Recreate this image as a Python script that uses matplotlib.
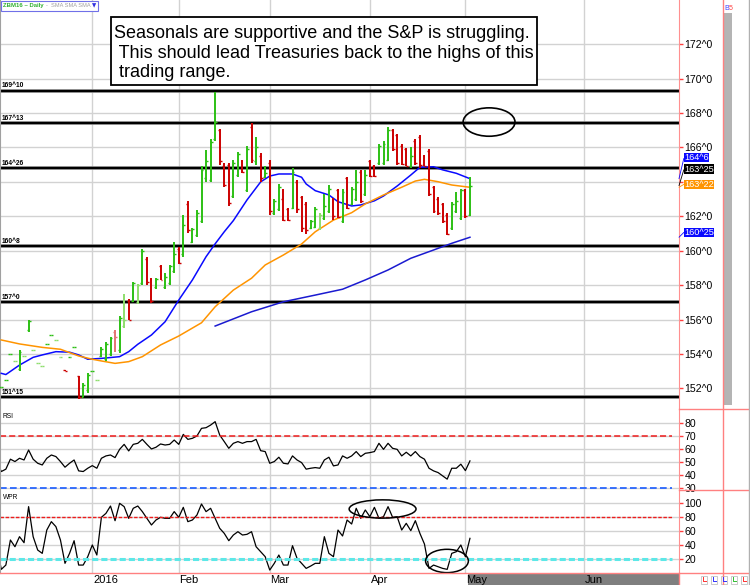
import numpy as np
import matplotlib
matplotlib.use("Agg")
import matplotlib.pyplot as plt
from matplotlib.patches import Ellipse, Rectangle
from matplotlib.lines import Line2D
from matplotlib.ticker import FuncFormatter

plt.rcParams['font.family'] = ['Liberation Sans', 'DejaVu Sans']

# ZBM16 daily bars, index 0 = early Dec 2015, last bar = May 3 2016
high = [152.1, 152.5, 154.0, 153.6, 154.2, 153.9, 156.0, 154.2, 153.5, 153.3,
        154.6, 155.1, 154.8, 153.8, 153.05, 153.8, 154.4, 152.7, 152.3, 152.9,
        153.0, 152.5, 154.4, 154.7, 155.0, 155.4, 156.2, 157.5, 157.2, 158.2,
        158.06, 160.1, 159.65, 158.4, 158.4, 159.17, 158.7, 159.17, 160.5, 160.2,
        162.08, 162.9, 161.3, 162.36, 164.9, 165.86, 166.5, 169.2, 167.1, 165.1,
        165.1, 165.3, 165.76, 165.3, 166.1, 167.4, 166.6, 165.66, 164.9, 165.3,
        163.0, 163.9, 163.6, 162.5, 164.8, 164.1, 163.2, 162.85, 161.8, 162.56,
        162.2, 163.3, 163.8, 163.05, 163.6, 163.6, 164.3, 163.7, 164.7, 164.7,
        164.7, 165.3, 165.0, 166.2, 166.4, 167.2, 167.1, 166.8, 166.2, 165.95,
        166.05, 166.5, 166.7, 165.56, 165.9, 163.76, 163.1, 162.8, 162.2, 162.85,
        163.4, 163.6, 163.6, 164.3]
low = [152.1, 152.5, 154.0, 153.6, 153.0, 153.9, 155.3, 154.2, 153.5, 153.3,
       154.6, 155.1, 154.8, 153.8, 153.0, 153.8, 154.4, 151.4, 151.5, 151.7,
       153.0, 152.5, 153.8, 153.6, 153.9, 154.1, 154.05, 155.5, 156.0, 157.0,
       156.9, 158.0, 158.0, 156.96, 157.8, 158.3, 157.8, 158.0, 158.7, 159.2,
       159.65, 161.05, 160.45, 160.8, 161.6, 164.0, 164.0, 166.4, 165.0, 163.7,
       162.6, 163.06, 164.3, 164.5, 163.4, 165.1, 165.0, 164.0, 164.2, 162.1,
       162.1, 162.3, 161.7, 161.7, 162.4, 162.2, 161.1, 161.0, 161.25, 161.3,
       161.2, 161.8, 162.2, 161.8, 161.9, 161.6, 162.4, 162.65, 162.9, 162.75,
       163.2, 164.3, 164.3, 165.0, 165.0, 165.2, 165.8, 165.0, 165.0, 164.9,
       164.8, 165.0, 164.8, 164.9, 163.2, 162.2, 162.1, 161.6, 160.9, 161.2,
       162.2, 161.8, 161.9, 162.0]
opn = [152.1, 152.5, 154.0, 153.6, 153.1, 153.9, 155.4, 154.2, 153.5, 153.3,
       154.6, 155.1, 154.8, 153.8, 153.05, 153.8, 154.4, 152.7, 151.5, 151.9,
       153.0, 152.5, 153.9, 153.7, 154.0, 155.3, 154.2, 155.6, 157.1, 157.1,
       157.0, 158.1, 159.5, 158.3, 157.9, 159.1, 157.9, 158.1, 158.8, 160.1,
       159.8, 162.7, 160.5, 160.9, 161.7, 164.2, 164.1, 166.5, 167.0, 164.9,
       165.0, 163.2, 164.4, 165.2, 163.5, 167.2, 165.2, 165.5, 164.3, 165.1,
       162.2, 162.4, 163.0, 162.4, 162.5, 164.0, 163.1, 162.7, 161.3, 161.4,
       161.3, 161.9, 162.3, 163.0, 163.5, 161.7, 164.2, 162.7, 163.0, 164.6,
       163.3, 165.2, 164.9, 165.1, 165.1, 165.3, 167.0, 166.7, 166.1, 165.9,
       164.9, 166.4, 166.6, 165.5, 165.8, 163.7, 163.0, 162.7, 162.1, 161.3,
       162.3, 161.9, 163.5, 162.1]
close = [152.1, 152.5, 154.0, 153.6, 154.1, 153.9, 155.9, 154.2, 153.5, 153.3,
         154.6, 155.1, 154.8, 153.8, 153.0, 153.8, 154.4, 151.5, 152.2, 152.8,
         153.0, 152.5, 154.3, 154.6, 154.9, 155.0, 156.1, 156.0, 156.0, 158.1,
         158.0, 160.0, 158.2, 157.1, 158.35, 158.32, 158.5, 159.1, 159.8, 159.3,
         161.5, 161.2, 161.25, 162.2, 164.7, 165.2, 166.3, 167.5, 165.2, 163.8,
         162.8, 165.1, 165.6, 164.6, 165.9, 165.3, 166.0, 164.2, 164.5, 162.3,
         162.9, 163.7, 161.8, 161.8, 164.6, 162.4, 161.3, 161.2, 161.7, 162.4,
         162.1, 162.6, 163.6, 162.0, 161.95, 163.4, 162.5, 163.6, 164.0, 162.9,
         164.4, 164.35, 164.35, 166.1, 166.2, 167.0, 165.9, 165.1, 165.05, 164.95,
         165.5, 165.1, 165.0, 164.95, 163.3, 162.3, 162.2, 161.7, 161.0, 162.7,
         162.9, 163.5, 162.0, 163 + 25 / 32]

# moving averages at a few bars each
fast_bar = [0, 1, 4, 7, 9, 12, 15, 17, 19, 22, 26, 28, 30, 33, 36, 39, 42, 45, 47, 49,
            51, 54, 57, 59, 61, 64, 66, 67, 69, 72, 74, 77, 79, 82, 84, 87, 90, 92, 95, 97,
            100, 103]
fast_sma = [152.87, 152.8, 153.35, 153.8, 153.94, 154.13, 154.1, 153.94, 153.69, 153.74,
            153.84, 154.13, 154.56, 155.1, 155.87, 157.13, 158.3, 159.65, 160.4, 161.1,
            161.75, 162.95, 164.0, 164.34, 164.46, 164.46, 164.27, 163.88, 163.49, 163.24,
            162.85, 162.6, 162.66, 162.9, 163.18, 163.76, 164.4, 164.85, 164.88, 164.7,
            164.5, 164 + 6 / 32]
mid_bar = [0, 4, 9, 13, 17, 20, 22, 25, 28, 31, 35, 39, 44, 47, 51, 55, 58, 62, 66, 69,
           73, 77, 80, 84, 88, 91, 93, 96, 99, 103]
mid_sma = [154.81, 154.58, 154.38, 154.27, 153.88, 153.69, 153.59, 153.45, 153.55, 153.84,
           154.52, 155.04, 155.81, 156.74, 157.71, 158.4, 159.17, 159.75, 160.39, 161.1,
           161.78, 162.21, 162.72, 163.24, 163.69, 164.05, 164.15, 164.01, 163.82, 163 + 22 / 32]
slow_bar = [47, 55, 62, 69, 75, 80, 85, 90, 95, 99, 103]
slow_sma = [155.62, 156.45, 157.03, 157.42, 157.76, 158.3, 158.88, 159.56, 160.04, 160.43,
            160 + 25 / 32]

# indicators, bar -1 .. 103
rsi = [50.4, 42.8, 44.6, 52.2, 50.4, 52.9, 51.6, 59.2, 52.2, 49.1, 47.8,
       52.9, 55.4, 54.2, 50.4, 46.1, 49.1, 51.6, 43.3, 42.8, 45.3,
       47.3, 45.3, 52.9, 54.7, 55.4, 53.4, 59.7, 63.5, 58.5, 63.5,
       64.3, 67.3, 63.5, 60.0, 61.3, 63.8, 63.0, 63.5, 66.8, 63.5,
       71.1, 67.3, 68.1, 69.9, 75.7, 76.2, 78.2, 80.8, 70.6, 65.6,
       60.5, 64.3, 65.6, 64.3, 65.6, 65.6, 67.3, 58.7, 58.0, 49.1,
       50.4, 53.7, 49.1, 48.6, 54.7, 51.6, 49.6, 44.6, 45.3, 45.8,
       45.3, 51.6, 53.7, 47.1, 47.8, 54.7, 52.9, 54.7, 58.0, 54.2,
       56.7, 57.2, 58.0, 64.3, 59.7, 64.3, 60.5, 59.7, 54.7, 57.5,
       54.7, 58.0, 54.2, 52.2, 45.3, 43.3, 42.0, 39.5, 37.0, 45.3,
       45.3, 48.4, 43.5, 50.9]
wpr = [37.3, 4.6, 10.8, 47.0, 37.3, 51.8, 43.1, 95.2, 51.8, 32.5, 27.7,
       61.4, 73.5, 66.3, 47.0, 13.3, 27.7, 46.0, 10.8, 10.8, 22.9,
       39.8, 25.3, 79.8, 85.5, 96.1, 74.9, 100.0, 95.2, 78.3, 92.8,
       96.1, 88.0, 78.3, 68.7, 75.9, 79.8, 78.3, 78.3, 88.0, 79.8,
       94.2, 73.5, 75.9, 83.1, 99.0, 88.0, 92.8, 78.3, 63.9, 56.6,
       46.0, 54.2, 59.0, 54.2, 55.2, 59.0, 37.3, 30.1, 22.9, 3.6,
       13.3, 25.3, 10.8, 10.8, 38.8, 20.5, 13.3, 6.0, 9.4, 13.3,
       13.3, 51.8, 27.7, 22.9, 61.4, 52.8, 75.9, 70.1, 92.8, 78.3,
       90.4, 80.7, 94.2, 78.3, 80.7, 95.2, 79.8, 80.7, 61.4, 71.1,
       60.5, 74.9, 56.6, 41.2, 6.0, 10.8, 8.4, 6.0, 4.6, 27.7,
       30.1, 39.8, 22.9, 49.4]

levels = [169 + 10 / 32, 167 + 13 / 32, 164 + 26 / 32, 160 + 8 / 32, 157.0, 151 + 15 / 32]
month_names = ['2016', 'Feb', 'Mar', 'Apr', 'May', 'Jun']
month_bar = [20, 39, 59, 81, 102, 128]
note = ("Seasonals are supportive and the S&P is struggling.\n"
        " This should lead Treasuries back to the highs of this\n"
        " trading range.")


def in32(v):
    whole = int(np.floor(v + 1e-9))
    return f"{whole}^{int(round((v - whole) * 32))}"


W, H = 750, 585
fig = plt.figure(figsize=(W / 100, H / 100), dpi=100)
fig.patch.set_facecolor('white')


def px_axes(x0, y0, x1, y1, **kw):
    return fig.add_axes([x0 / W, 1 - y1 / H, (x1 - x0) / W, (y1 - y0) / H], **kw)


def fig_line(xs, ys, **kw):
    fig.add_artist(Line2D([x / W for x in xs], [1 - y / H for y in ys],
                          transform=fig.transFigure, **kw))


ax = px_axes(0, 0, 679, 409)
ax_rsi = px_axes(0, 409, 679, 490.3, sharex=ax)
ax_wpr = px_axes(0, 490.3, 679, 573.3, sharex=ax)
ax_d = px_axes(0, 573.3, 679, 585, sharex=ax)

ax.set_xlim(-1.3 / 4.55, 677.7 / 4.55)
ax.set_ylim(150.797, 174.575)
ax_rsi.set_ylim(28.5, 90.44)
ax_wpr.set_ylim(-1.1, 118.8)
ax_d.set_ylim(0, 1)

grid_kw = dict(color='#d2d2d2', lw=1.0)
for a, ticks in [(ax, np.arange(152, 173, 2)), (ax_rsi, [30, 40, 50, 60, 70, 80]),
                 (ax_wpr, [20, 40, 60, 80, 100])]:
    a.set_yticks(ticks)
    a.set_xticks(month_bar)
    a.grid(True, **grid_kw)
    a.set_axisbelow(True)
    a.yaxis.tick_right()
    a.tick_params(axis='y', direction='out', length=3, width=1, color='#ff4040',
                  labelsize=7.6, pad=1, labelcolor='black')
    a.tick_params(axis='x', length=0, labelbottom=False)
    for s in ['top', 'bottom']:
        a.spines[s].set_visible(False)
    a.spines['left'].set_color('#a0a0a0')
    a.spines['right'].set_color('#ff9090')


# the last-price tags cover the tick label nearest the last close
def price_label(v, p):
    return '' if abs(v - close[-1]) < 0.6 else f"{v:.0f}^0"


ax.yaxis.set_major_formatter(FuncFormatter(price_label))

# price bars
n = len(close)
idx = np.arange(n)
o, h, l, c = map(np.array, (opn, high, low, close))
prev = np.r_[c[0], c[:-1]]
up = c >= o
pale = (up & (c < prev)) | (~up & (c > prev))
cols = np.where(up, np.where(pale, '#8ede6c', '#2cc014'), np.where(pale, '#e27474', '#cc0000'))
ax.vlines(idx, l, h, colors=cols, lw=1.4, zorder=4)
ax.hlines(o, idx - 0.42, idx, colors=cols, lw=1.0, zorder=4)
ax.hlines(c, idx, idx + 0.42, colors=cols, lw=1.0, zorder=4)

ax.plot(fast_bar, fast_sma, color='#0a0aff', lw=1.1, zorder=3)
ax.plot(mid_bar, mid_sma, color='#ff9400', lw=1.1, zorder=3)
ax.plot(slow_bar, slow_sma, color='#1a1ad0', lw=1.1, zorder=3)

for lv in levels:
    ax.axhline(lv, color='#8c8c8c', lw=2.6, zorder=2)
    ax.axhline(lv, color='black', lw=1.6, zorder=2.1)
    ax.text(0.002, lv + 0.08, in32(lv), transform=ax.get_yaxis_transform(),
            fontsize=4.8, fontweight='bold', va='bottom', ha='left', zorder=5)

# last values on the right edge
for val, fc, dy in [(fast_sma[-1], '#0a0aff', 21), (close[-1], 'black', 16.5),
                    (mid_sma[-1], '#ff9400', 3), (slow_sma[-1], '#0a0aff', 5)]:
    ax.annotate(in32(val), xy=(1, val), xycoords=ax.get_yaxis_transform(),
                xytext=(5, dy), textcoords='offset pixels', fontsize=6.6, color='white',
                ha='left', va='center', annotation_clip=False, zorder=10,
                bbox=dict(boxstyle='square,pad=0.02', fc=fc, ec='none'),
                arrowprops=dict(arrowstyle='-', color=fc, lw=0.6, shrinkA=0, shrinkB=0,
                                relpos=(0, 0.5)))

# comment box
ax.add_patch(Rectangle((111 / 679, 1 - 85 / 409), 426 / 679, 68 / 409, transform=ax.transAxes,
                       fc='white', ec='black', lw=1.3, zorder=8))
ax.text(114 / 679, 1 - 25.5 / 409, note, transform=ax.transAxes, fontsize=13.0, va='top',
        ha='left', linespacing=1.16, zorder=9)
ax.add_patch(Ellipse((107.2, 167.48), 11.4, 1.65, fc='none', ec='black', lw=1.2, zorder=6))

# legend tag
ax.add_patch(Rectangle((0.5 / 679, 1 - 10.5 / 409), 97 / 679, 10 / 409, transform=ax.transAxes,
                       fc='white', ec='#7070e8', lw=0.8, zorder=8))
ax.text(3 / 679, 1 - 5.5 / 409, 'ZBM16 ~ Daily', transform=ax.transAxes, fontsize=4.3,
        fontweight='bold', color='#30b030', va='center', zorder=9)
ax.text(46 / 679, 1 - 5.5 / 409, '-  SMA SMA SMA', transform=ax.transAxes, fontsize=4.1,
        color='#a0a0a0', va='center', zorder=9)
ax.text(91.5 / 679, 1 - 5.5 / 409, '\u25bc', transform=ax.transAxes, fontsize=4.0,
        color='#3030e0', va='center', zorder=9, family='DejaVu Sans')

# RSI
bars_ind = np.arange(-1, n)
ax_rsi.plot(bars_ind, rsi, color='black', lw=0.9)
ax_rsi.axhline(70, xmax=0.99, color='#ee1c1c', lw=1.1, dashes=(4, 2))
ax_rsi.axhline(30, xmax=0.99, color='#1a5cff', lw=1.2, dashes=(4, 2))
ax_rsi.text(0.004, 0.95, 'RSI', transform=ax_rsi.transAxes, fontsize=4.8, va='top')

# WPR
ax_wpr.plot(bars_ind, wpr, color='black', lw=0.9)
ax_wpr.axhline(80, xmax=0.99, color='#ee1c1c', lw=1.0, dashes=(2.5, 1.2))
ax_wpr.axhline(20, xmax=0.99, color='#5de8e8', lw=2.2, dashes=(2, 1))
ax_wpr.text(0.004, 0.95, 'WPR', transform=ax_wpr.transAxes, fontsize=4.8, va='top')
ax_wpr.add_patch(Ellipse((83.8, 91.8), 14.7, 26.4, fc='none', ec='black', lw=1.1, zorder=6))
ax_wpr.add_patch(Ellipse((97.95, 16.7), 9.4, 33.7, fc='none', ec='black', lw=1.1, zorder=6))

# date strip
ax_d.axis('off')
ax_d.axvspan(n - 1.5, ax.get_xlim()[1], color='#7f7f7f', lw=0)
for m, name in zip(month_bar, month_names):
    ax_d.text(m + 0.15, 0.45, name, transform=ax_d.get_xaxis_transform(), fontsize=8,
              ha='left', va='center')

# frame pieces outside the plotting area
red = '#ff8080'
fig_line([0, 750], [573.3, 573.3], color=red, lw=1.0)
fig_line([679, 679], [573, 585], color=red, lw=1.0)
fig_line([723, 723], [0, 585], color=red, lw=1.0)
fig_line([679, 750], [409, 409], color=red, lw=1.0)
fig_line([679, 750], [490.3, 490.3], color=red, lw=1.0)
fig_line([749, 749], [0, 585], color='#b0b0b0', lw=1.0)
fig.add_artist(Rectangle((724 / W, 1 - 405 / H), 8 / W, 392 / H, transform=fig.transFigure,
                         fc='#b4b4b4', ec='none'))
fig.text(724 / W, 1 - 8 / H, 'B', color='#4040ff', fontsize=5, va='center')
fig.text(728.5 / W, 1 - 8 / H, '5', color='#ff4040', fontsize=5, va='center')
for k, col in enumerate(['#ff3030', '#3030ff', '#3030ff', '#30c030', '#ff3030']):
    x0 = 701 + 10 * k
    fig.add_artist(Rectangle((x0 / W, 1 - 583.5 / H), 6 / W, 8 / H, transform=fig.transFigure,
                             fc='white', ec='#c0c0c0', lw=0.6))
    fig_line([x0 + 1.5, x0 + 1.5, x0 + 4.5], [577, 581, 581], color=col, lw=0.7)

fig.savefig('out.png', dpi=100)
